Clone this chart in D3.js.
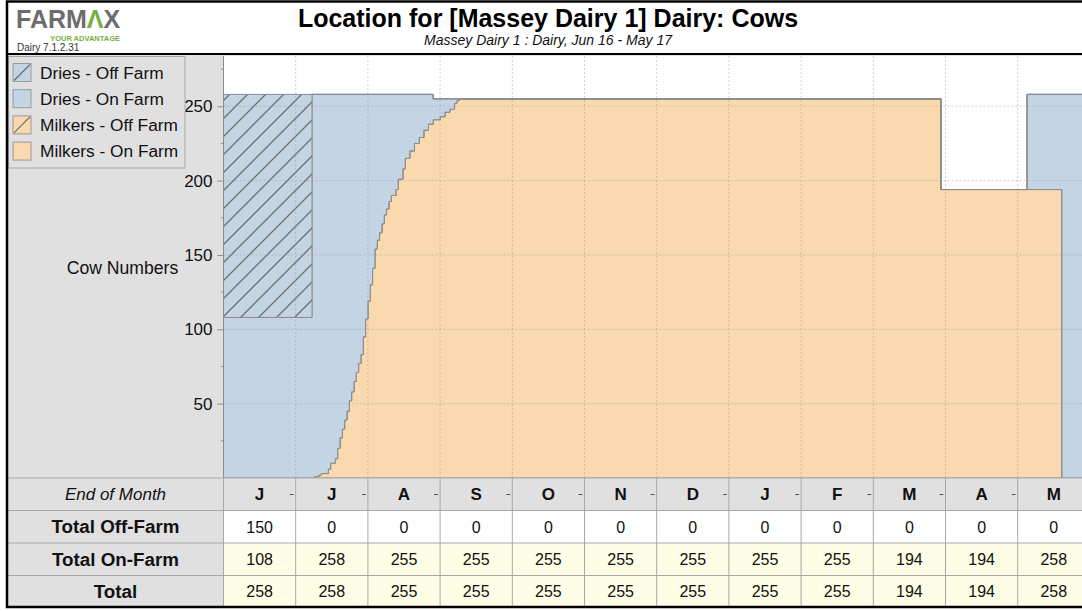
<!DOCTYPE html>
<html lang="en">
<head>
<meta charset="UTF-8">
<title>Location for [Massey Dairy 1] Dairy: Cows</title>
<script src="https://d3js.org/d3.v7.min.js"></script>
<style>
  body { margin: 0; background: #fff; }
  svg { display: block; font-family: "Liberation Sans", Arial, sans-serif; }
</style>
</head>
<body>
<script>
// cows in each location from this date on (step data)
const changeDates = [
  "2016-06-01", "2016-07-08", "2016-07-09", "2016-07-11", "2016-07-12", "2016-07-15",
  "2016-07-16", "2016-07-18", "2016-07-19", "2016-07-20", "2016-07-21", "2016-07-22",
  "2016-07-23", "2016-07-24", "2016-07-25", "2016-07-26", "2016-07-27", "2016-07-28",
  "2016-07-29", "2016-07-30", "2016-07-31", "2016-08-01", "2016-08-02", "2016-08-03",
  "2016-08-04", "2016-08-05", "2016-08-06", "2016-08-07", "2016-08-08", "2016-08-09",
  "2016-08-10", "2016-08-11", "2016-08-13", "2016-08-14", "2016-08-16", "2016-08-17",
  "2016-08-19", "2016-08-21", "2016-08-23", "2016-08-25", "2016-08-27", "2016-08-29",
  "2016-09-01", "2016-09-03", "2016-09-05", "2016-09-07", "2016-09-08", "2016-09-09",
  "2017-03-30", "2017-05-05", "2017-05-20"
];
const milkersOnFarm = [
  0, 0, 1, 2, 3, 6,
  10, 13, 20, 27, 33, 39,
  45, 52, 58, 65, 71, 77,
  83, 95, 107, 119, 130, 141,
  154, 160, 165, 171, 177, 181,
  186, 190, 194, 201, 208, 215,
  220, 225, 229, 234, 238, 241,
  243, 246, 248, 252, 254, 255,
  194, 194, 0
];
const milkersOffFarm = changeDates.map(() => 0);
const driesOnFarm = [
  108, 258, 257, 256, 255, 252,
  248, 245, 238, 231, 225, 219,
  213, 206, 200, 193, 187, 181,
  175, 163, 151, 139, 128, 117,
  104, 98, 93, 87, 81, 77,
  72, 68, 64, 57, 50, 43,
  38, 33, 29, 24, 20, 14,
  12, 9, 7, 3, 1, 0,
  0, 64, 258
];
const driesOffFarm = [
  150, 0, 0, 0, 0, 0,
  0, 0, 0, 0, 0, 0,
  0, 0, 0, 0, 0, 0,
  0, 0, 0, 0, 0, 0,
  0, 0, 0, 0, 0, 0,
  0, 0, 0, 0, 0, 0,
  0, 0, 0, 0, 0, 0,
  0, 0, 0, 0, 0, 0,
  0, 0, 0
];

const months = ["J", "J", "A", "S", "O", "N", "D", "J", "F", "M", "A", "M"];
const totalOffFarm = [150, 0, 0, 0, 0, 0, 0, 0, 0, 0, 0, 0];
const totalOnFarm = [108, 258, 255, 255, 255, 255, 255, 255, 255, 194, 194, 258];
const totalCows = [258, 258, 255, 255, 255, 255, 255, 255, 255, 194, 194, 258];
const yTicks = [50, 100, 150, 200, 250];
const yMinorTicks = [25, 75, 125, 175, 225, 275];
const yMax = 283.8;

const legendItems = [
  { key: "driesOff", label: "Dries - Off Farm" },
  { key: "driesOn", label: "Dries - On Farm" },
  { key: "milkersOff", label: "Milkers - Off Farm" },
  { key: "milkersOn", label: "Milkers - On Farm" }
];

const width = 1082, height = 611;
const plotLeft = 223.5, plotTop = 56, plotBottom = 478;
const colW = 72.2;
const blue = "#c3d4e4", orange = "#f9d9ad", edge = "#8c8c8c";

const fills = {
  milkersOn: orange,
  milkersOff: "url(#hatchOrange)",
  driesOn: blue,
  driesOff: "url(#hatchBlue)"
};

// position of a date in months from 1 June 2016
const parse = d3.timeParse("%Y-%m-%d");
function monthPos(s) {
  const d = parse(s);
  const m = (d.getFullYear() - 2016) * 12 + d.getMonth() - 5;
  const days = new Date(d.getFullYear(), d.getMonth() + 1, 0).getDate();
  return m + (d.getDate() - 1) / days;
}

const rows = changeDates.map((d, i) => ({
  pos: monthPos(d),
  milkersOn: milkersOnFarm[i],
  milkersOff: milkersOffFarm[i],
  driesOn: driesOnFarm[i],
  driesOff: driesOffFarm[i]
}));
rows.push({ ...rows[rows.length - 1], pos: 12 });

const x = d3.scaleLinear().domain([0, 12]).range([plotLeft, plotLeft + 12 * colW]);
const y = d3.scaleLinear().domain([0, yMax]).range([plotBottom, plotTop]);

const svg = d3.select("body").append("svg")
  .attr("width", width)
  .attr("height", height);

const defs = svg.append("defs");
function hatch(id, bg) {
  const p = defs.append("pattern")
    .attr("id", id)
    .attr("patternUnits", "userSpaceOnUse")
    .attr("width", 18).attr("height", 18);
  p.append("rect").attr("width", 18).attr("height", 18).attr("fill", bg);
  p.append("path")
    .attr("d", "M0,18L18,0M-4.5,4.5L4.5,-4.5M13.5,22.5L22.5,13.5")
    .attr("stroke", "#6e6e6e").attr("stroke-width", 1.3);
}
hatch("hatchBlue", blue);
hatch("hatchOrange", orange);

defs.append("clipPath").attr("id", "plotClip")
  .append("rect")
  .attr("x", plotLeft).attr("y", plotTop - 2)
  .attr("width", 12 * colW).attr("height", plotBottom - plotTop + 2);

// backgrounds
svg.append("rect").attr("width", width).attr("height", height).attr("fill", "#fff");
svg.append("rect").attr("x", 8).attr("y", 54).attr("width", width).attr("height", plotBottom - 54)
  .attr("fill", "#e0e0e0");
svg.append("rect").attr("x", plotLeft).attr("y", plotTop)
  .attr("width", 12 * colW).attr("height", plotBottom - plotTop).attr("fill", "#fff");

// stacked step areas
const stack = d3.stack().keys(["milkersOn", "milkersOff", "driesOn", "driesOff"]);
const series = stack(rows);
const area = d3.area()
  .curve(d3.curveStepAfter)
  .x(d => x(d.data.pos))
  .y0(d => y(d[0]))
  .y1(d => y(d[1]));

const plotG = svg.append("g").attr("clip-path", "url(#plotClip)");
plotG.selectAll("path.layer")
  .data(series)
  .join("path")
  .attr("class", "layer")
  .attr("d", area)
  .attr("fill", d => fills[d.key])
  .attr("stroke", edge)
  .attr("stroke-width", 1);

// grid on top, faint dotted
const grid = plotG.append("g")
  .attr("stroke", "#9a9a9a")
  .attr("stroke-opacity", 0.45)
  .attr("stroke-dasharray", "2,2");
grid.selectAll("line.v")
  .data(d3.range(1, 12))
  .join("line")
  .attr("class", "v")
  .attr("x1", d => x(d)).attr("x2", d => x(d))
  .attr("y1", plotTop).attr("y2", plotBottom);
grid.selectAll("line.h")
  .data(yTicks)
  .join("line")
  .attr("class", "h")
  .attr("x1", plotLeft).attr("x2", plotLeft + 12 * colW)
  .attr("y1", d => y(d)).attr("y2", d => y(d));

// y axis
const yAxis = svg.append("g")
  .attr("transform", `translate(${plotLeft},0)`)
  .call(d3.axisLeft(y).tickValues(yTicks).tickSize(6).tickPadding(5).tickSizeOuter(0));
yAxis.select(".domain").attr("stroke", "#8c8c8c").attr("d", `M0,${plotTop}V${plotBottom}`);
yAxis.selectAll(".tick line").attr("stroke", "#8c8c8c");
yAxis.selectAll(".tick text")
  .attr("font-size", 17)
  .attr("font-family", "Liberation Sans, Arial, sans-serif")
  .attr("fill", "#111");
svg.append("g").selectAll("line")
  .data(yMinorTicks)
  .join("line")
  .attr("x1", plotLeft - 2.5).attr("x2", plotLeft)
  .attr("y1", d => y(d)).attr("y2", d => y(d))
  .attr("stroke", "#8c8c8c");

svg.append("text")
  .attr("x", 122.5).attr("y", 274)
  .attr("text-anchor", "middle")
  .attr("font-size", 17.6)
  .attr("fill", "#111")
  .text("Cow Numbers");

// legend
const legend = svg.append("g");
legend.append("rect")
  .attr("x", 8.5).attr("y", 56.5).attr("width", 176.5).attr("height", 111.5)
  .attr("fill", "#e0e0e0").attr("stroke", "#a8a8a8");
const legItem = legend.selectAll("g.item")
  .data(legendItems)
  .join("g")
  .attr("class", "item")
  .attr("transform", (d, i) => `translate(13,${63.5 + i * 26.2})`);
legItem.append("rect")
  .attr("width", 18).attr("height", 18)
  .attr("fill", d => d.key.startsWith("dries") ? blue : orange)
  .attr("stroke", "#9a9a9a");
legItem.filter(d => d.key.endsWith("Off")).append("line")
  .attr("x1", 1).attr("y1", 17).attr("x2", 17).attr("y2", 1)
  .attr("stroke", "#6e6e6e").attr("stroke-width", 1.2);
legItem.append("text")
  .attr("x", 27).attr("y", 15)
  .attr("font-size", 17.3)
  .attr("fill", "#111")
  .text(d => d.label);

// table
const rowY = [478, 510.5, 543, 575.5, 607];
const tableRows = [
  { label: "End of Month", values: months, bg: "#e0e0e0", italic: true, boldValues: true },
  { label: "Total Off-Farm", values: totalOffFarm, bg: "#ffffff" },
  { label: "Total On-Farm", values: totalOnFarm, bg: "#fefde6" },
  { label: "Total", values: totalCows, bg: "#fefde6" }
];
const table = svg.append("g");
tableRows.forEach((r, i) => {
  const y0 = rowY[i], y1 = rowY[i + 1], cy = (y0 + y1) / 2 + 6;
  table.append("rect").attr("x", 8).attr("y", y0).attr("width", plotLeft - 8).attr("height", y1 - y0)
    .attr("fill", "#e0e0e0");
  table.append("rect").attr("x", plotLeft).attr("y", y0).attr("width", 12 * colW).attr("height", y1 - y0)
    .attr("fill", r.bg);
  table.append("text")
    .attr("x", 115.5).attr("y", r.italic ? cy : cy + 0.5)
    .attr("text-anchor", "middle")
    .attr("font-size", r.italic ? 17 : 18.8)
    .attr("font-style", r.italic ? "italic" : null)
    .attr("font-weight", r.italic ? null : "bold")
    .attr("fill", "#111")
    .text(r.label);
  table.selectAll(null)
    .data(r.values)
    .join("text")
    .attr("x", (d, k) => x(k + 0.5))
    .attr("y", cy)
    .attr("text-anchor", "middle")
    .attr("font-size", r.boldValues ? 17 : 16)
    .attr("font-weight", r.boldValues ? "bold" : null)
    .attr("fill", "#111")
    .text(d => d);
});
// month ticks at end of each column
table.selectAll("line.mt")
  .data(d3.range(1, 13))
  .join("line")
  .attr("class", "mt")
  .attr("x1", d => x(d) - 6).attr("x2", d => x(d) - 2)
  .attr("y1", 494.5).attr("y2", 494.5)
  .attr("stroke", "#555");
table.selectAll("line.hl")
  .data(rowY.slice(0, 4))
  .join("line")
  .attr("class", "hl")
  .attr("x1", 8).attr("x2", width)
  .attr("y1", d => d).attr("y2", d => d)
  .attr("stroke", "#a8a8a8");
table.selectAll("line.vl")
  .data(d3.range(0, 12))
  .join("line")
  .attr("class", "vl")
  .attr("x1", d => x(d)).attr("x2", d => x(d))
  .attr("y1", rowY[0]).attr("y2", rowY[4])
  .attr("stroke", "#a8a8a8");

// header
const header = svg.append("g");
header.append("text")
  .attr("x", 548).attr("y", 26.5)
  .attr("text-anchor", "middle")
  .attr("font-size", 25)
  .attr("font-weight", "bold")
  .attr("fill", "#000")
  .text("Location for [Massey Dairy 1] Dairy: Cows");
header.append("text")
  .attr("x", 548).attr("y", 44.5)
  .attr("text-anchor", "middle")
  .attr("font-size", 14)
  .attr("font-style", "italic")
  .attr("fill", "#111")
  .text("Massey Dairy 1 : Dairy, Jun 16 - May 17");

const logo = header.append("text")
  .attr("x", 16).attr("y", 28)
  .attr("font-size", 25)
  .attr("font-weight", "bold")
  .attr("fill", "#6b6c6e");
logo.append("tspan").text("FARM");
logo.append("tspan").attr("fill", "#76b041").text("Λ");
logo.append("tspan").text("X");
header.append("text")
  .attr("x", 120).attr("y", 40.5)
  .attr("text-anchor", "end")
  .attr("font-size", 7.5)
  .attr("font-weight", "bold")
  .attr("fill", "#76b041")
  .text("YOUR ADVANTAGE");
header.append("text")
  .attr("x", 17).attr("y", 51)
  .attr("font-size", 10)
  .attr("fill", "#333")
  .text("Dairy 7.1.2.31");

// frame
svg.append("line").attr("x1", 7).attr("x2", width).attr("y1", 54).attr("y2", 54)
  .attr("stroke", "#000").attr("stroke-width", 2);
svg.append("rect")
  .attr("x", 7).attr("y", 1.5).attr("width", width + 10).attr("height", 605.5)
  .attr("fill", "none").attr("stroke", "#000").attr("stroke-width", 2.5);
</script>
</body>
</html>
